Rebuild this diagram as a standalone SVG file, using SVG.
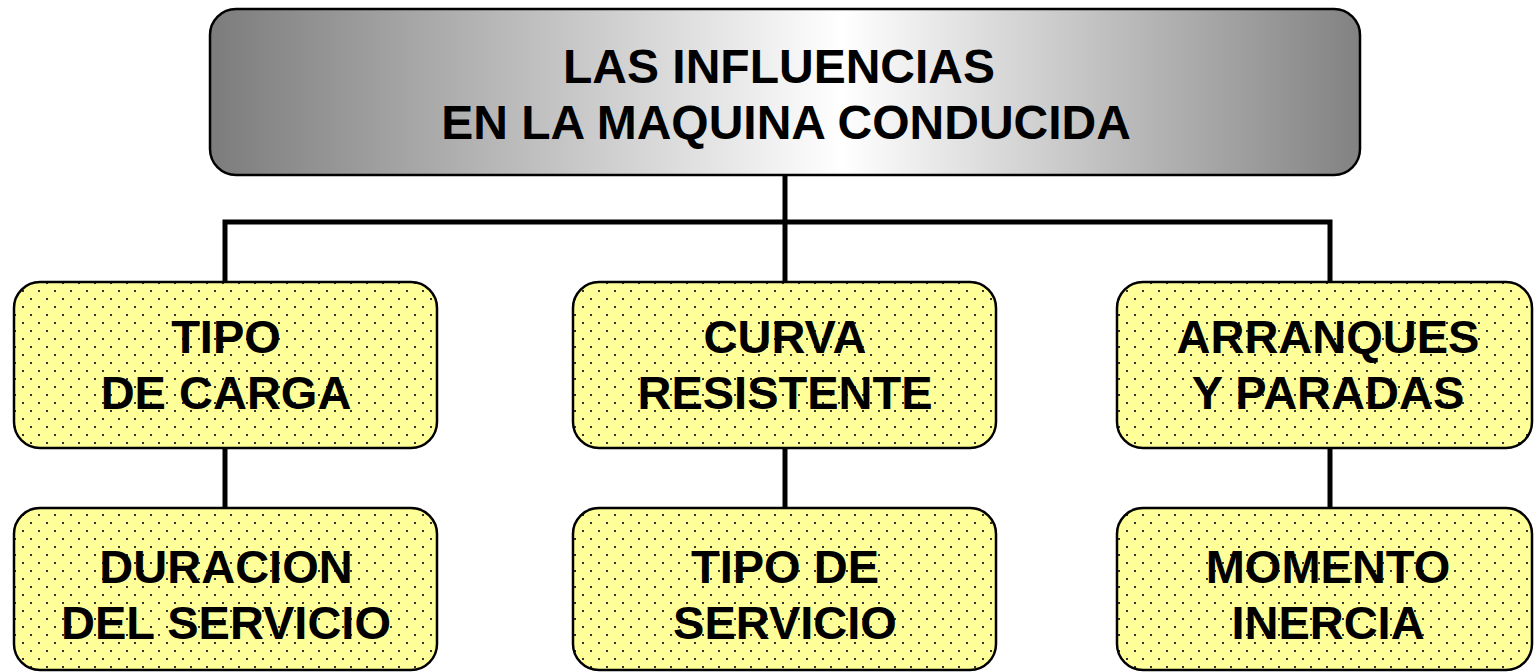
<svg xmlns="http://www.w3.org/2000/svg" width="1534" height="672" viewBox="0 0 1534 672">
<style>
.t{font-family:"Liberation Sans",Arial,sans-serif;font-weight:bold;font-size:47px;fill:#000;text-anchor:middle}
.h{font-size:48px}
.box{fill:url(#dots);stroke:#000;stroke-width:2.5}
.ln{stroke:#000;stroke-width:5;fill:none}
</style>
<defs>
<linearGradient id="gray" x1="0" y1="0" x2="1" y2="0">
<stop offset="0" stop-color="#7c7c7c"/>
<stop offset="0.55" stop-color="#ffffff"/>
<stop offset="1" stop-color="#828282"/>
</linearGradient>
<pattern id="dots" patternUnits="userSpaceOnUse" x="0" y="0" width="16" height="16">
<rect width="16" height="16" fill="#ffff99"/>
<rect x="6" y="2" width="2" height="2" fill="#333"/>
<rect x="14" y="10" width="2" height="2" fill="#333"/>
</pattern>
</defs>
<g id="connectors">
<line class="ln" x1="785" y1="175" x2="785" y2="282"/>
<polyline class="ln" points="225,282 225,222 1330,222 1330,282"/>
<line class="ln" x1="225" y1="448" x2="225" y2="508"/>
<line class="ln" x1="785" y1="448" x2="785" y2="508"/>
<line class="ln" x1="1330" y1="448" x2="1330" y2="508"/>
</g>
<g id="root">
<rect x="210" y="9" width="1150" height="166" rx="26" fill="url(#gray)" stroke="#000" stroke-width="2.5"/>
<text class="t h" x="779" y="83">LAS INFLUENCIAS</text>
<text class="t h" x="786" y="139">EN LA MAQUINA CONDUCIDA</text>
</g>
<g id="tipo-carga">
<rect class="box" x="14" y="282" width="423" height="166" rx="26"/>
<text class="t" x="226" y="353">TIPO</text>
<text class="t" x="226" y="409">DE CARGA</text>
</g>
<g id="curva-resistente">
<rect class="box" x="573" y="282" width="423" height="166" rx="26"/>
<text class="t" x="785" y="353">CURVA</text>
<text class="t" x="785" y="409">RESISTENTE</text>
</g>
<g id="arranques-paradas">
<rect class="box" x="1117" y="282" width="415" height="166" rx="26"/>
<text class="t" x="1328" y="353">ARRANQUES</text>
<text class="t" x="1328" y="409">Y PARADAS</text>
</g>
<g id="duracion-servicio">
<rect class="box" x="14" y="508" width="423" height="162" rx="26"/>
<text class="t" x="226" y="583">DURACION</text>
<text class="t" x="226" y="639">DEL SERVICIO</text>
</g>
<g id="tipo-servicio">
<rect class="box" x="573" y="508" width="423" height="162" rx="26"/>
<text class="t" x="785" y="583">TIPO DE</text>
<text class="t" x="785" y="639">SERVICIO</text>
</g>
<g id="momento-inercia">
<rect class="box" x="1117" y="508" width="415" height="162" rx="26"/>
<text class="t" x="1328" y="583">MOMENTO</text>
<text class="t" x="1328" y="639">INERCIA</text>
</g>
</svg>
